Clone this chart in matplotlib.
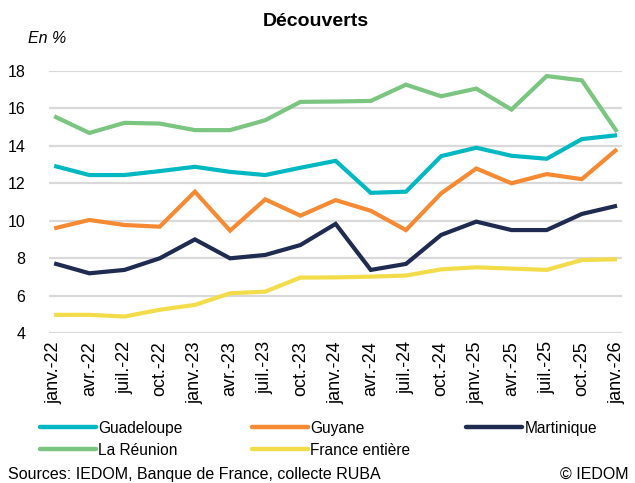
import matplotlib.pyplot as plt
import matplotlib.lines as mlines

plt.rcParams['font.family'] = ['Liberation Sans', 'DejaVu Sans']

# trimestres
dates = ['janv.-22', 'avr.-22', 'juil.-22', 'oct.-22',
         'janv.-23', 'avr.-23', 'juil.-23', 'oct.-23',
         'janv.-24', 'avr.-24', 'juil.-24', 'oct.-24',
         'janv.-25', 'avr.-25', 'juil.-25', 'oct.-25', 'janv.-26']

guadeloupe = [12.93, 12.44, 12.44, 12.65, 12.88, 12.61, 12.44, 12.83, 13.2,
              11.49, 11.55, 13.45, 13.9, 13.47, 13.31, 14.36, 14.57]
guyane = [9.59, 10.04, 9.77, 9.68, 11.55, 9.47, 11.14, 10.27, 11.1,
          10.53, 9.5, 11.46, 12.79, 12.0, 12.49, 12.22, 13.82]
martinique = [7.72, 7.19, 7.37, 7.99, 9.0, 7.99, 8.17, 8.7, 9.83,
              7.37, 7.69, 9.24, 9.95, 9.5, 9.5, 10.36, 10.8]
reunion = [15.58, 14.69, 15.23, 15.19, 14.84, 14.84, 15.37, 16.35, 16.37,
           16.4, 17.27, 16.65, 17.06, 15.94, 17.73, 17.5, 14.75]
france = [4.97, 4.97, 4.88, 5.24, 5.5, 6.12, 6.21, 6.96, 6.97,
          7.01, 7.07, 7.4, 7.51, 7.44, 7.37, 7.9, 7.94]

yticks = [4, 6, 8, 10, 12, 14, 16, 18]

series = [
    ('Guadeloupe', guadeloupe, '#00B8C2'),
    ('Guyane', guyane, '#F58A33'),
    ('Martinique', martinique, '#1F2B50'),
    ('La Réunion', reunion, '#7AC57F'),
    ('France entière', france, '#F3DC4A'),
]

fig = plt.figure(figsize=(6.35, 4.83), dpi=100)
ax = fig.add_axes([0.077, 0.3106, 0.903, 0.5424])

x = list(range(len(dates)))
for name, vals, col in series:
    ax.plot(x, vals, color=col, lw=3.0, solid_joinstyle='miter', solid_capstyle='butt')

ax.set_xlim(-0.15, len(dates) - 1 + 0.15)
ax.set_ylim(4, 18)
ax.set_yticks(yticks)
ax.set_yticklabels([str(v) for v in yticks], fontsize=11.5)
ax.set_xticks(x)
ax.set_xticklabels(dates, rotation=90, fontsize=13)
ax.tick_params(length=0, pad=6)
ax.tick_params(axis='y', pad=17)
ax.grid(axis='y', color='#D9D9D9', lw=1.6)
ax.set_axisbelow(True)
for s in ax.spines.values():
    s.set_visible(False)

fig.text(0.498, 0.955, 'Découverts', ha='center', va='center',
         fontsize=14, fontweight='bold')
fig.text(0.044, 0.921, 'En %', ha='left', va='center', fontsize=11.5, style='italic')

# legende : trois colonnes de largeur egale, remplies ligne par ligne
col_x = [0.063, 0.397, 0.734]
for c in range(3):
    items = series[c::3]
    hs = [mlines.Line2D([], [], color=col, lw=3.2, solid_capstyle='round') for _, _, col in items]
    leg = fig.legend(hs, [n for n, _, _ in items], loc='upper left',
                     bbox_to_anchor=(col_x[c], 0.129), frameon=False, fontsize=11.2,
                     handlelength=3.6, handletextpad=0.15, labelspacing=0.45,
                     borderaxespad=0, borderpad=0)

fig.text(0.012, 0.018, 'Sources: IEDOM, Banque de France, collecte RUBA',
         ha='left', va='center', fontsize=11.5)
fig.text(0.882, 0.018, '© IEDOM', ha='left', va='center', fontsize=11.5)

fig.savefig('out.png', dpi=100)
